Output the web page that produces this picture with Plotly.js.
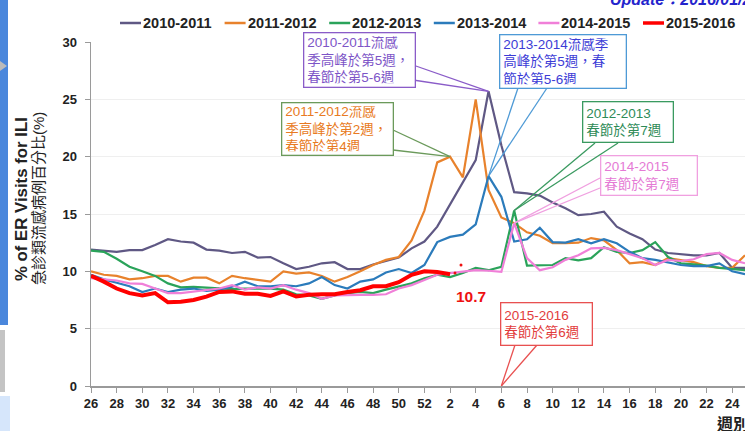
<!DOCTYPE html>
<html><head><meta charset="utf-8">
<script src="https://cdn.plot.ly/plotly-3.0.1.min.js"></script>
<style>html,body{margin:0;padding:0;background:#fff;overflow:hidden}</style>
</head><body><div id="chart" style="width:745px;height:431px"></div>
<script>
// ---- data ----
const weekLabels = [26,27,28,29,30,31,32,33,34,35,36,37,38,39,40,41,42,43,44,45,46,47,48,49,50,51,52,
  1,2,3,4,5,6,7,8,9,10,11,12,13,14,15,16,17,18,19,20,21,22,23,24,25];
const seasonNames = ['2010-2011','2011-2012','2012-2013','2013-2014','2014-2015','2015-2016'];
const s2010 = [11.9,11.8,11.7,11.85,11.85,12.3,12.8,12.6,12.5,11.9,11.8,11.6,11.7,11.2,11.25,10.7,10.2,10.4,10.7,10.8,10.2,10.2,10.6,10.9,11.2,12.0,12.6,
  13.9,15.8,17.8,19.7,25.7,21.0,16.9,16.8,16.6,16.0,15.5,14.9,15.0,15.2,13.9,13.3,12.8,11.9,11.6,11.5,11.4,11.4,11.6,10.3,10.3];
const s2011 = [10.0,9.7,9.6,9.3,9.4,9.6,9.6,9.1,9.45,9.45,8.95,9.6,9.4,9.25,9.1,10.0,9.8,9.9,9.6,9.1,9.5,10.0,10.55,11.0,11.25,12.7,15.3,
  19.5,20.0,18.2,25.0,17.1,14.7,14.2,13.4,13.1,12.45,12.45,12.5,12.9,12.7,11.85,10.7,10.8,10.55,11.15,11.0,10.8,10.45,10.3,10.3,11.4];
const s2012 = [11.8,11.7,11.1,10.4,10.0,9.6,8.95,8.6,8.65,8.6,8.5,8.45,8.5,8.5,8.5,8.4,8.0,7.9,7.6,7.9,8.1,8.2,8.1,8.4,8.65,8.95,9.4,
  9.7,9.5,9.85,10.3,10.1,10.4,15.3,10.5,10.55,10.55,11.15,10.95,11.15,12.1,11.7,11.6,11.85,12.55,11.25,10.7,10.6,10.5,10.3,10.2,10.1];
const s2013 = [9.7,9.3,9.0,8.7,8.2,8.5,8.2,8.4,8.5,8.3,8.4,8.65,9.1,8.7,8.7,8.8,8.7,8.95,9.5,8.8,8.5,9.1,9.3,9.9,10.2,9.85,10.55,
  12.55,13.0,13.2,14.1,18.3,16.5,12.6,12.8,13.8,12.55,12.5,12.8,12.45,12.8,12.45,11.7,11.15,11.0,10.8,10.55,10.45,10.45,10.7,10.0,9.75];
const s2014 = [9.4,9.3,9.2,8.95,8.9,8.5,8.1,8.1,8.25,8.35,8.5,8.8,8.4,8.6,8.5,8.8,8.4,8.1,7.6,7.9,7.95,7.95,7.95,8.0,8.5,8.8,9.25,
  9.7,9.85,9.95,10.1,10.05,9.95,14.2,11.15,10.1,10.35,11.0,11.4,12.0,12.05,11.85,11.5,11.15,10.55,11.0,10.9,11.05,11.5,11.6,11.0,10.7];
const s2015 = [9.6,9.1,8.5,8.1,7.9,8.1,7.3,7.35,7.5,7.8,8.2,8.25,8.05,8.05,7.85,8.25,7.8,7.95,8.0,8.0,8.2,8.35,8.7,8.7,9.05,9.7,10.0,
  9.95,9.75];
const latestLabel = '10.7';

// ---- styling ----
const colors = ['#5f5884','#e8822c','#2aa35a','#2b7bbb','#f07fd8','#ff0000'];
const widths = [2.2,2.2,2.2,2.2,2.2,4];
const series = [s2010,s2011,s2012,s2013,s2014,s2015];

const L=91,R=745,T=42,B=386,XMAX=51,YMAX=30;
const dx = p => (p-L)/(R-L)*XMAX;
const dy = p => (B-p)/(B-T)*YMAX;
const pxp = p => (p-L)/(R-L);
const pyp = p => (B-p)/(B-T);

const traces = series.map((s,k)=>({
  type:'scatter', mode:'lines', name:seasonNames[k], showlegend:false,
  x:s.map((v,i)=>i), y:s,
  line:{color:colors[k], width:widths[k]},
  hoverinfo:'skip'
}));

const FONT = 'Liberation Sans, Arial, Noto Sans CJK TC, sans-serif';
const wk = w => weekLabels.indexOf(w);

function box(l,r,t,b,text,tcolor,bcolor){
  return {xref:'paper',yref:'paper',x:pxp((l+r)/2),y:pyp((t+b)/2),xanchor:'center',yanchor:'middle',
    text:text,showarrow:false,align:'left',width:(r-l)-8,height:(b-t)-8,borderpad:3,
    bgcolor:'#fff',bordercolor:bcolor,borderwidth:1.3,
    font:{family:FONT,size:13.5,color:tcolor}};
}
function wedge(p1,p2,tx,ty,color){
  return [p1,p2].map(p=>({type:'line',xref:'x',yref:'y',x0:dx(p[0]),y0:dy(p[1]),x1:tx,y1:ty,
    line:{color:color,width:1.3},layer:'above'}));
}

const annotations = [
  box(303,415,33,88,'2010-2011流感<br>季高峰於第5週，<br>春節於第5-6週','#7d55c7','#8a5cc8'),
  box(281,393,102,155,'2011-2012流感<br>季高峰於第2週，<br>春節於第4週','#e87a22','#6b9a5b'),
  box(499,626,34,88,'2013-2014流感季<br>高峰於第5週，春<br>節於第5-6週','#3c3cd6','#4e9ad6'),
  box(582,673,102,143,'2012-2013<br>春節於第7週','#2e8b57','#3a9a60'),
  box(600,697,155,195,'2014-2015<br>春節於第7週','#e57ad5','#f0a0e0'),
  box(500,592,302,345,'2015-2016<br>春節於第6週','#e23c3c','#e85050'),
  {xref:'paper',yref:'paper',x:pxp(471),y:pyp(296),xanchor:'center',yanchor:'middle',showarrow:false,
    text:latestLabel,font:{family:FONT,size:15.5,weight:'bold',color:'#ee1111'}},
  {xref:'paper',yref:'paper',x:pxp(21),y:pyp(199),xanchor:'center',yanchor:'middle',showarrow:false,textangle:-90,
    text:'% of ER Visits for ILI',font:{family:FONT,size:16.8,weight:'bold',color:'#222'}},
  {xref:'paper',yref:'paper',x:pxp(38),y:pyp(199),xanchor:'center',yanchor:'middle',showarrow:false,textangle:-90,
    text:'急診類流感病例百分比(%)',font:{family:FONT,size:15,color:'#222'}},
  {xref:'paper',yref:'paper',x:pxp(715),y:pyp(424),xanchor:'left',yanchor:'middle',showarrow:false,
    text:'週別',font:{family:FONT,size:16,weight:'bold',color:'#222'}},
  {xref:'paper',yref:'paper',x:pxp(608),y:pyp(10),xanchor:'left',yanchor:'bottom',showarrow:false,
    text:'<i>Update：2016/01/25</i>',font:{family:FONT,size:16,weight:'bold',color:'#2424cc'}}
];

let shapes = [];
shapes = shapes.concat(wedge([413,65],[413,80],wk(5),s2010[wk(5)],'#8a5cc8'));
shapes = shapes.concat(wedge([393,130],[393,150],wk(2),s2011[wk(2)],'#6b9a5b'));
shapes = shapes.concat(wedge([518,88],[547,88],wk(5),s2013[wk(5)],'#4e9ad6'));
shapes = shapes.concat(wedge([595,143],[618,143],wk(7),s2012[wk(7)],'#3a9a60'));
shapes = shapes.concat(wedge([600,178],[600,188],wk(7),s2014[wk(7)],'#f0a0e0'));
shapes = shapes.concat(wedge([515,345],[537,345],wk(6),0,'#e85050'));
// small red dots near the latest value
[[455,273],[461,265]].forEach(p=>shapes.push({type:'circle',xref:'paper',yref:'paper',
  x0:pxp(p[0]-1.5),x1:pxp(p[0]+1.5),y0:pyp(p[1]+1.5),y1:pyp(p[1]-1.5),fillcolor:'#ee1111',line:{width:0}}));
// slide edge decorations
shapes.push({type:'rect',xref:'paper',yref:'paper',x0:pxp(0),x1:pxp(8),y0:pyp(0),y1:pyp(325),fillcolor:'#4a87dc',line:{width:0},layer:'below'});
shapes.push({type:'rect',xref:'paper',yref:'paper',x0:pxp(0),x1:pxp(5),y0:pyp(330),y1:pyp(392),fillcolor:'#c4c4c4',line:{width:0},layer:'below'});
shapes.push({type:'rect',xref:'paper',yref:'paper',x0:pxp(0),x1:pxp(10),y0:pyp(396),y1:pyp(431),fillcolor:'#d6e6fb',line:{width:0},layer:'below'});
shapes.push({type:'path',xref:'paper',yref:'paper',layer:'above',fillcolor:'#bbbbbb',line:{width:0},
  path:'M '+pxp(0)+' '+pyp(61)+' L '+pxp(7)+' '+pyp(66)+' L '+pxp(0)+' '+pyp(71)+' Z'});

// legend drawn by hand across the top
const legendX0 = 142, legendStep = 104.6, legendY = 23;
seasonNames.forEach((n,k)=>{
  const tx = legendX0 + k*legendStep;
  shapes.push({type:'line',xref:'paper',yref:'paper',x0:pxp(tx-22),x1:pxp(tx-1),y0:pyp(legendY),y1:pyp(legendY),
    line:{color:colors[k],width:k===5?3.5:2.5}});
  annotations.push({xref:'paper',yref:'paper',x:pxp(tx),y:pyp(legendY),xanchor:'left',yanchor:'middle',
    showarrow:false,borderpad:0,text:n,font:{family:FONT,size:14.5,weight:'bold',color:'#222'}});
});

const tickIdx = weekLabels.map((w,i)=>i).filter(i=>i%2===0);
const layout = {
  width:745,height:431,
  margin:{l:L,r:745-R,t:T,b:431-B,pad:0,autoexpand:false},
  paper_bgcolor:'#fff',plot_bgcolor:'#fff',
  font:{family:FONT,color:'#222'},
  showlegend:false,
  xaxis:{range:[0,XMAX],tickmode:'array',tickvals:tickIdx,ticktext:tickIdx.map(i=>String(weekLabels[i])),
    ticks:'outside',ticklen:5,tickcolor:'#9a9a9a',showline:true,linecolor:'#9a9a9a',linewidth:1.5,
    showgrid:false,zeroline:false,fixedrange:true,automargin:false,
    tickfont:{family:FONT,size:13,weight:'bold',color:'#222'}},
  yaxis:{range:[0,YMAX],tickmode:'array',tickvals:[0,5,10,15,20,25,30],
    ticks:'outside',ticklen:5,tickcolor:'#9a9a9a',showline:true,linecolor:'#9a9a9a',linewidth:1.5,
    showgrid:true,gridcolor:'#efefef',zeroline:false,fixedrange:true,ticklabelstandoff:5,automargin:false,
    tickfont:{family:FONT,size:13,weight:'bold',color:'#222'}},
  annotations:annotations,
  shapes:shapes
};
Plotly.newPlot('chart',traces,layout,{displayModeBar:false,staticPlot:true});
</script>
</body></html>
